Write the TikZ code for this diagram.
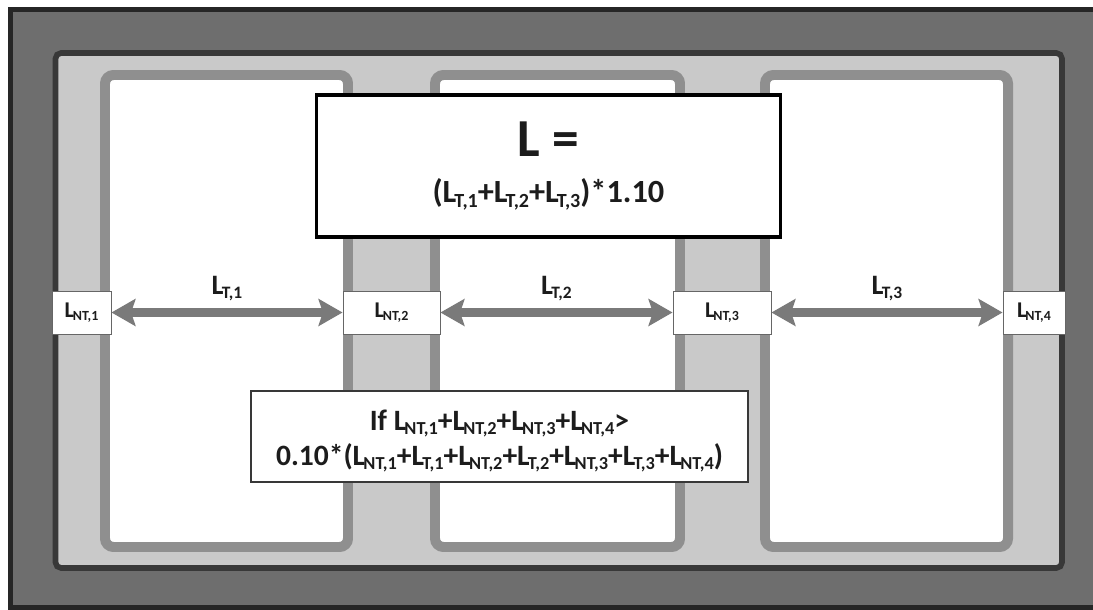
\documentclass[tikz,border=0pt]{standalone}
\usepackage{fontspec}
\setmainfont{Carlito}
\usepackage{graphicx}
\usepackage{tikz}
\usetikzlibrary{arrows.meta, positioning}

\definecolor{framegray}{HTML}{6E6E6E}
\definecolor{panelgray}{HTML}{C9C9C9}
\definecolor{edgedark}{HTML}{383838}
\definecolor{roomgray}{HTML}{8F8F8F}
\definecolor{arrowgray}{HTML}{7A7A7A}
\definecolor{inkdark}{HTML}{1C1C1C}

\newcommand{\Lsub}[1]{L\kern-0.06em\raisebox{-0.3ex}{\scalebox{0.62}{#1}}}

\tikzstyle{room} = [draw=roomgray, line width=7.1pt, fill=white, rounded corners=6pt]
\tikzstyle{ntbox} = [rectangle, draw=gray!80!black, line width=0.6pt, fill=white, minimum height=1.075cm, inner sep=0pt, text=inkdark, font=\fontsize{16}{18}\selectfont\bfseries]
\tikzstyle{formbox} = [rectangle, draw=black, line width=2.2pt, fill=white, minimum width=11.575cm, minimum height=3.55cm, align=center, text=inkdark]
\tikzstyle{rulebox} = [rectangle, draw=edgedark, line width=0.9pt, fill=white, minimum width=12.425cm, minimum height=2.275cm, align=center, text=inkdark, font=\fontsize{21}{24.5}\selectfont\bfseries]
\tikzstyle{lenarrow} = [line width=6.4pt, draw=arrowgray, {Stealth[length=17pt,width=19pt,inset=3pt]}-{Stealth[length=17pt,width=19pt,inset=3pt]}]
\tikzstyle{tlabel} = [text=inkdark, font=\fontsize{20}{22}\selectfont\bfseries]

\begin{document}
\begin{tikzpicture}[x=0.025cm, y=-0.025cm]
\useasboundingbox (0,0) rectangle (1093,610);

% outer frame and building panel
\fill[framegray] (8,7) rectangle (1093,609);
\draw[line width=3.5pt, color=black!85] (1093,9.5) -- (10.5,9.5) -- (10.5,607.5) -- (1093,607.5);
\draw[draw=edgedark, fill=panelgray, line width=4pt, rounded corners=4pt] (55.5,53) rectangle (1062,568);

% rooms
\draw[room] (105,75) rectangle (348,547);
\draw[room] (435,75) rectangle (680,547);
\draw[room] (765,75) rectangle (1008,547);

% formula boxes
\node (total) [formbox] at (548.5,166) {{\fontsize{38}{40}\selectfont\bfseries L =}\\[15pt]
  {\fontsize{23}{25}\selectfont\bfseries (\Lsub{T,1}+\Lsub{T,2}+\Lsub{T,3})*1.10}};
\node (rule) [rulebox] at (499.5,436.5) {\rule{0pt}{21pt}If \Lsub{NT,1}+\Lsub{NT,2}+\Lsub{NT,3}+\Lsub{NT,4}>\\
  0.10*(\Lsub{NT,1}+\Lsub{T,1}+\Lsub{NT,2}+\Lsub{T,2}+\Lsub{NT,3}+\Lsub{T,3}+\Lsub{NT,4})};

% non-transparent segments
\node (nt1) [ntbox, minimum width=1.475cm] at (81.5,312.5) {\Lsub{NT,1}};
\node (nt2) [ntbox, minimum width=2.425cm] at (391.5,312.5) {\Lsub{NT,2}};
\node (nt3) [ntbox, minimum width=2.45cm] at (722,312.5) {\Lsub{NT,3}};
\node (nt4) [ntbox, minimum width=1.55cm] at (1034,312.5) {\Lsub{NT,4}};

% transparent lengths
\draw [lenarrow] (nt1) -- node[tlabel, above=2pt] {\Lsub{T,1}} (nt2);
\draw [lenarrow] (nt2) -- node[tlabel, above=2pt] {\Lsub{T,2}} (nt3);
\draw [lenarrow] (nt3) -- node[tlabel, above=2pt] {\Lsub{T,3}} (nt4);

\end{tikzpicture}
\end{document}
